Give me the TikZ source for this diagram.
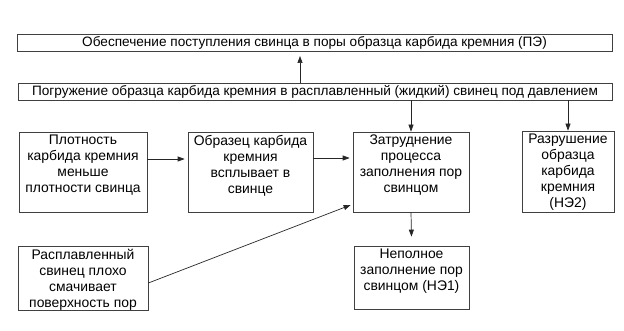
\documentclass[tikz,border=0pt]{standalone}
\usepackage{fontspec}
\setmainfont{Liberation Sans}
\usetikzlibrary{arrows.meta}
\begin{document}
\begin{tikzpicture}[x=1pt,y=-1pt,
  box/.style={draw=black!75,line width=0.7pt,inner sep=0pt,anchor=center},
  wide/.style={box,font=\fontsize{13.6}{16}\selectfont},
  txt/.style={inner sep=0pt,align=center,anchor=north,
    font=\fontsize{13.9}{16}\selectfont},
  arr/.style={-{Triangle[length=7pt,width=5pt]},line width=0.7pt,draw=black!85}]
\useasboundingbox (0,0) rectangle (624,331);
\node[wide,minimum width=595,minimum height=17] (pe) at (314.5,42.5) {Обеспечение поступления свинца в поры образца карбида кремния (ПЭ)};
\node[wide,minimum width=594,minimum height=17] (imm) at (315,91.5) {Погружение образца карбида кремния в расплавленный (жидкий) свинец под давлением};
\node[box,minimum width=128,minimum height=80] (dens) at (83,172.5) {};
\node[box,minimum width=125,minimum height=80] (float) at (250.5,172.5) {};
\node[box,minimum width=116,minimum height=80] (hard) at (411,172) {};
\node[box,minimum width=92,minimum height=81] (dest) at (568,171.5) {};
\node[box,minimum width=130,minimum height=64] (wet) at (83,278) {};
\node[box,minimum width=115,minimum height=63] (inc) at (411.5,277.5) {};
\node[txt] (densT) at ([yshift=-3]dens.north) {Плотность\\карбида кремния\\меньше\\плотности свинца};
\node[txt] (floatT) at ([yshift=-3]float.north) {Образец карбида\\кремния\\всплывает в\\свинце};
\node[txt] (hardT) at ([yshift=-3]hard.north) {Затруднение\\процесса\\заполнения пор\\свинцом};
\node[txt] (destT) at ([yshift=-3]dest.north) {Разрушение\\образца\\карбида\\кремния\\(НЭ2)};
\node[txt] (wetT) at ([yshift=-3]wet.north) {Расплавленный\\свинец плохо\\смачивает\\поверхность пор};
\node[txt] (incT) at ([yshift=-3]inc.north) {Неполное\\заполнение пор\\свинцом (НЭ1)};
\coordinate (peb) at (300,56);
\draw[arr] (imm.north -| peb) -- (peb);
\draw[arr] (imm.south -| hard) -- (hard.north);
\draw[arr] (imm.south -| dest) -- (dest.north);
\draw[arr] (dens.east |- 0,159) -- ([xshift=-3]float.west |- 0,159);
\draw[arr] (float.east |- 0,158) -- ([xshift=-3]hard.west |- 0,158);
\draw[arr] (wet.east |- 0,283) -- ([xshift=-2]hard.west |- 0,205);
\draw[arr] (hard.south) -- ([yshift=9]inc.north);
\end{tikzpicture}
\end{document}
